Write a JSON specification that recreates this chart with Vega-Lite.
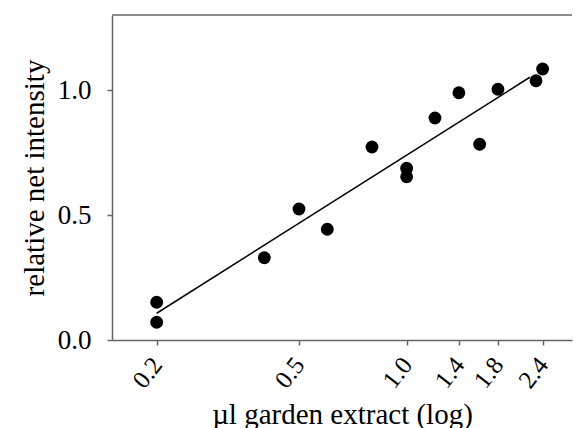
{
  "$schema": "https://vega.github.io/schema/vega-lite/v6.json",
  "width": 460,
  "height": 325,
  "autosize": "none",
  "padding": {"left": 112, "top": 15, "right": 3, "bottom": 88},
  "background": "white",
  "config": {
    "view": {"stroke": null},
    "font": "Liberation Serif",
    "axis": {
      "grid": false,
      "domainColor": "#666666",
      "domainWidth": 1.5,
      "tickColor": "#666666",
      "tickWidth": 1.5,
      "tickSize": 5,
      "labelFont": "Liberation Serif",
      "titleFont": "Liberation Serif",
      "labelFontSize": 27,
      "titleFontSize": 29,
      "labelColor": "black",
      "titleColor": "black",
      "titleFontWeight": "normal",
      "labelOverlap": false
    }
  },
  "datasets": {
    "points": [
      {"x": 0.2, "y": 0.151},
      {"x": 0.2, "y": 0.071},
      {"x": 0.4, "y": 0.329},
      {"x": 0.5, "y": 0.524},
      {"x": 0.6, "y": 0.443},
      {"x": 0.8, "y": 0.772},
      {"x": 1.0, "y": 0.687},
      {"x": 1.0, "y": 0.653},
      {"x": 1.2, "y": 0.888},
      {"x": 1.4, "y": 0.989},
      {"x": 1.6, "y": 0.783},
      {"x": 1.8, "y": 1.003},
      {"x": 2.3, "y": 1.037},
      {"x": 2.4, "y": 1.084}
    ],
    "fit": [
      {"x": 0.2, "y": 0.107},
      {"x": 2.21, "y": 1.051}
    ],
    "frame": [
      {"y": 1.3}
    ]
  },
  "layer": [
    {
      "data": {"name": "frame"},
      "mark": {"type": "rule", "color": "#666666", "strokeWidth": 1.5},
      "encoding": {
        "y": {"field": "y", "type": "quantitative"}
      }
    },
    {
      "data": {"name": "fit"},
      "mark": {"type": "line", "color": "black", "strokeWidth": 1.5},
      "encoding": {
        "x": {"field": "x", "type": "quantitative"},
        "y": {"field": "y", "type": "quantitative"}
      }
    },
    {
      "data": {"name": "points"},
      "mark": {"type": "circle", "color": "black", "opacity": 1, "size": 165},
      "encoding": {
        "x": {
          "field": "x",
          "type": "quantitative",
          "scale": {"type": "log", "domain": [0.15, 2.9], "nice": false},
          "axis": {
            "title": "µl garden extract (log)",
            "values": [0.2, 0.5, 1.0, 1.4, 1.8, 2.4],
            "format": ".1f",
            "labelAngle": -52,
            "labelAlign": "right",
            "labelBaseline": "middle",
            "labelFontSize": 25,
            "labelPadding": 15,
            "titleBaseline": "alphabetic",
            "titleY": 83
          }
        },
        "y": {
          "field": "y",
          "type": "quantitative",
          "scale": {"domain": [0, 1.3], "nice": false},
          "axis": {
            "title": "relative net intensity",
            "values": [0, 0.5, 1.0],
            "format": ".1f",
            "labelPadding": 16,
            "titleBaseline": "alphabetic",
            "titleX": -69,
            "titleY": 162.5
          }
        }
      }
    }
  ]
}
